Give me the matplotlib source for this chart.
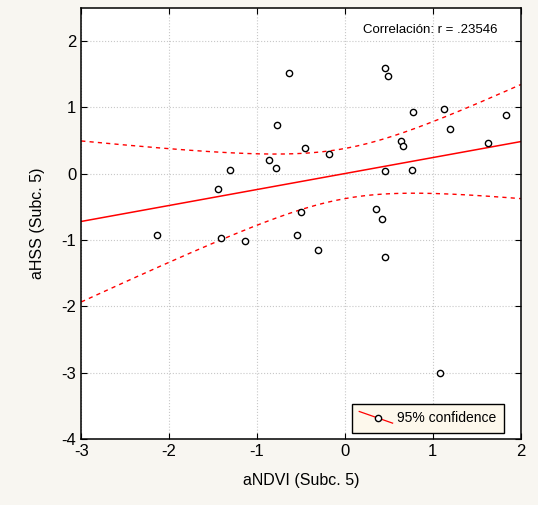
import numpy as np
import matplotlib.pyplot as plt
from matplotlib.lines import Line2D
from matplotlib.legend_handler import HandlerBase

plt.rcParams['font.family'] = ['Liberation Sans', 'DejaVu Sans']
plt.rcParams['axes.unicode_minus'] = False

# values
andvi = [-2.14, -1.44, -1.41, -1.31, -1.14, -0.86, -0.79, -0.77, -0.64, -0.50,
         -0.54, -0.45, -0.31, -0.18, 0.35, 0.42, 0.45, 0.49, 0.45, 0.45,
         0.64, 0.66, 0.77, 0.76, 1.13, 1.20, 1.63, 1.83, 1.08]
ahss = [-0.93, -0.23, -0.97, 0.06, -1.01, 0.21, 0.08, 0.73, 1.52, -0.58,
        -0.92, 0.39, -1.15, 0.30, -0.53, -0.68, 1.60, 1.47, 0.04, -1.25,
        0.50, 0.42, 0.93, 0.06, 0.97, 0.67, 0.47, 0.89, -3.00]
r_text = 'Correlación: r = .23546'
x_ticks = [-3, -2, -1, 0, 1, 2]
y_ticks = [-4, -3, -2, -1, 0, 1, 2]

x = np.array(andvi)
y = np.array(ahss)
n = len(x)

# regression line and 95% confidence band for the mean
b, a = np.polyfit(x, y, 1)
xs = np.linspace(-3, 2, 200)
fit = a + b * xs
resid = y - (a + b * x)
s = np.sqrt(np.sum(resid ** 2) / (n - 2))
t_val = 2.052  # t(0.975, df=27)
se = s * np.sqrt(1 / n + (xs - x.mean()) ** 2 / np.sum((x - x.mean()) ** 2))
upper = fit + t_val * se
lower = fit - t_val * se


class SlantHandler(HandlerBase):
    def create_artists(self, legend, orig, xd, yd, width, height, fontsize, trans):
        line = Line2D([xd, xd + width], [yd + height * 1.1, yd - height * 0.1],
                      color='red', lw=0.9, transform=trans)
        mark = Line2D([xd + width * 0.55], [yd + height * 0.4], marker='o', ms=4.5,
                      mfc='white', mec='black', mew=1, ls='none', transform=trans)
        return [line, mark]


fig = plt.figure(figsize=(5.38, 5.05), dpi=100, facecolor='#f8f6f1')
ax = fig.add_axes([0.151, 0.131, 0.817, 0.853])
ax.set_facecolor('white')

ax.plot(xs, fit, color='red', lw=1.1)
ax.plot(xs, upper, color='red', lw=1, ls=(0, (3, 3)))
ax.plot(xs, lower, color='red', lw=1, ls=(0, (3, 3)))
pts, = ax.plot(x, y, 'o', ms=4.5, mfc='white', mec='black', mew=1)

ax.set_xlim(-3, 2)
ax.set_ylim(-4, 2.5)
ax.set_xticks(x_ticks)
ax.set_yticks(y_ticks)
ax.grid(True, color='#c8c8c8', ls=':', lw=0.8)
ax.tick_params(direction='in', top=True, right=True, labelsize=12, length=4)
for sp in ax.spines.values():
    sp.set_linewidth(1.1)

ax.set_xlabel('aNDVI (Subc. 5)', fontsize=11.5, labelpad=10)
ax.set_ylabel('aHSS (Subc. 5)', fontsize=11.5, labelpad=12)

ax.text(0.948, 0.948, r_text, transform=ax.transAxes, ha='right', va='center',
        fontsize=9.5)

leg = ax.legend([pts], ['95% confidence'], loc='lower right', fontsize=10,
                bbox_to_anchor=(0.961, 0.014), borderaxespad=0,
                handler_map={pts: SlantHandler()}, fancybox=False,
                framealpha=1, facecolor='#fdf8ec', edgecolor='black',
                borderpad=0.55, handlelength=2.4, handletextpad=0.3)
leg.get_frame().set_linewidth(1)

fig.savefig('out.png', dpi=100, facecolor=fig.get_facecolor())
